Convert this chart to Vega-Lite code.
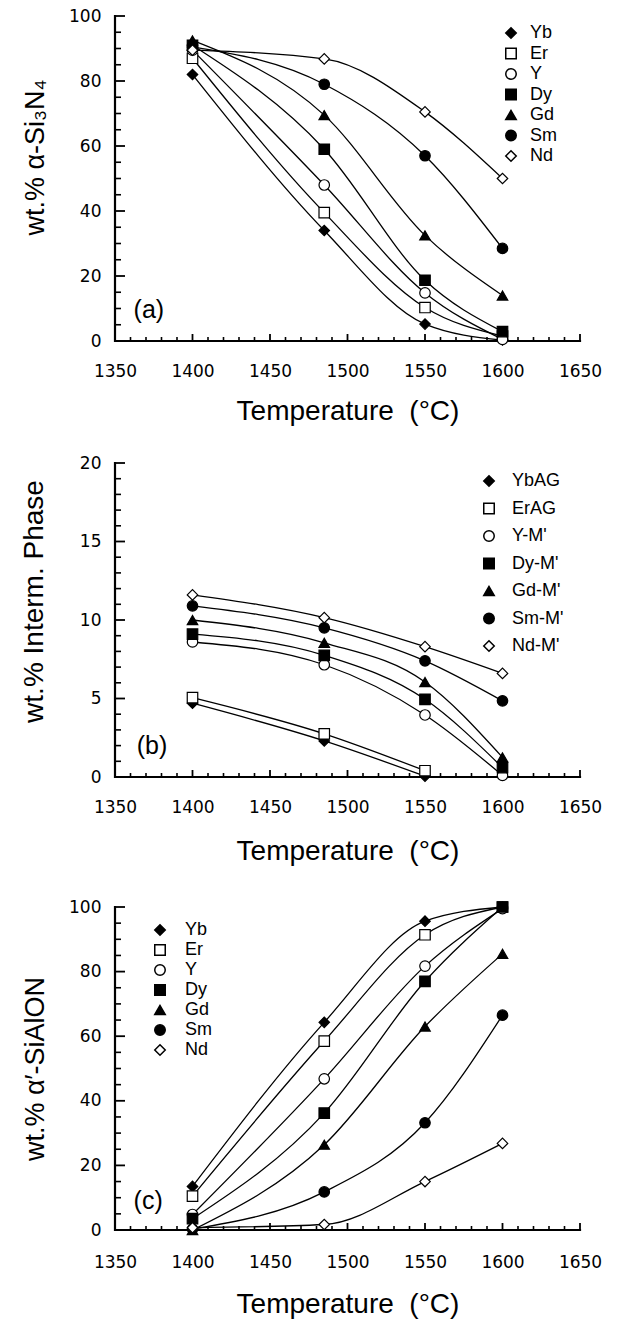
{
  "$schema": "https://vega.github.io/schema/vega-lite/v6.json",
  "padding": {"left": 20, "top": 7, "right": 5, "bottom": 5},
  "background": "white",
  "config": {
    "view": {"stroke": null},
    "font": "Liberation Sans",
    "axis": {"grid": false, "domain": false, "ticks": false, "labelColor": "black", "titleColor": "black", "labelFont": "DejaVu Sans", "labelFontSize": 17, "titleFontSize": 27, "titleFontWeight": "normal", "labelFlush": false, "labelOverlap": false},
    "legend": {"labelFontSize": 18, "labelColor": "black", "padding": 0, "symbolSize": 110},
    "tick": {"color": "black", "opacity": 1}
  },
  "datasets": {
    "frame100": [{"i": 1, "x": 1350, "y": 100}, {"i": 2, "x": 1350, "y": 0}, {"i": 3, "x": 1650, "y": 0}],
    "frame20": [{"i": 1, "x": 1350, "y": 20}, {"i": 2, "x": 1350, "y": 0}, {"i": 3, "x": 1650, "y": 0}],
    "xt": [
      {"val": 1360, "kind": "minor"}, {"val": 1370, "kind": "minor"}, {"val": 1380, "kind": "minor"}, {"val": 1390, "kind": "minor"},
      {"val": 1400, "kind": "major"}, {"val": 1410, "kind": "minor"}, {"val": 1420, "kind": "minor"}, {"val": 1430, "kind": "minor"}, {"val": 1440, "kind": "minor"},
      {"val": 1450, "kind": "major"}, {"val": 1460, "kind": "minor"}, {"val": 1470, "kind": "minor"}, {"val": 1480, "kind": "minor"}, {"val": 1490, "kind": "minor"},
      {"val": 1500, "kind": "major"}, {"val": 1510, "kind": "minor"}, {"val": 1520, "kind": "minor"}, {"val": 1530, "kind": "minor"}, {"val": 1540, "kind": "minor"},
      {"val": 1550, "kind": "major"}, {"val": 1560, "kind": "minor"}, {"val": 1570, "kind": "minor"}, {"val": 1580, "kind": "minor"}, {"val": 1590, "kind": "minor"},
      {"val": 1600, "kind": "major"}, {"val": 1610, "kind": "minor"}, {"val": 1620, "kind": "minor"}, {"val": 1630, "kind": "minor"}, {"val": 1640, "kind": "minor"},
      {"val": 1650, "kind": "major"}
    ],
    "yt100": [
      {"val": 5, "kind": "minor"}, {"val": 10, "kind": "minor"}, {"val": 15, "kind": "minor"}, {"val": 20, "kind": "major"},
      {"val": 25, "kind": "minor"}, {"val": 30, "kind": "minor"}, {"val": 35, "kind": "minor"}, {"val": 40, "kind": "major"},
      {"val": 45, "kind": "minor"}, {"val": 50, "kind": "minor"}, {"val": 55, "kind": "minor"}, {"val": 60, "kind": "major"},
      {"val": 65, "kind": "minor"}, {"val": 70, "kind": "minor"}, {"val": 75, "kind": "minor"}, {"val": 80, "kind": "major"},
      {"val": 85, "kind": "minor"}, {"val": 90, "kind": "minor"}, {"val": 95, "kind": "minor"}, {"val": 100, "kind": "major"}
    ],
    "yt20": [
      {"val": 1, "kind": "minor"}, {"val": 2, "kind": "minor"}, {"val": 3, "kind": "minor"}, {"val": 4, "kind": "minor"}, {"val": 5, "kind": "major"},
      {"val": 6, "kind": "minor"}, {"val": 7, "kind": "minor"}, {"val": 8, "kind": "minor"}, {"val": 9, "kind": "minor"}, {"val": 10, "kind": "major"},
      {"val": 11, "kind": "minor"}, {"val": 12, "kind": "minor"}, {"val": 13, "kind": "minor"}, {"val": 14, "kind": "minor"}, {"val": 15, "kind": "major"},
      {"val": 16, "kind": "minor"}, {"val": 17, "kind": "minor"}, {"val": 18, "kind": "minor"}, {"val": 19, "kind": "minor"}, {"val": 20, "kind": "major"}
    ],
    "a": [
      {"series": "Yb", "T": 1400, "v": 82}, {"series": "Yb", "T": 1485, "v": 34}, {"series": "Yb", "T": 1550, "v": 5.2}, {"series": "Yb", "T": 1600, "v": 0.3},
      {"series": "Er", "T": 1400, "v": 87}, {"series": "Er", "T": 1485, "v": 39.5}, {"series": "Er", "T": 1550, "v": 10.3}, {"series": "Er", "T": 1600, "v": 1.5},
      {"series": "Y", "T": 1400, "v": 89.5}, {"series": "Y", "T": 1485, "v": 48}, {"series": "Y", "T": 1550, "v": 14.8}, {"series": "Y", "T": 1600, "v": 0.5},
      {"series": "Dy", "T": 1400, "v": 91}, {"series": "Dy", "T": 1485, "v": 59}, {"series": "Dy", "T": 1550, "v": 18.7}, {"series": "Dy", "T": 1600, "v": 2.9},
      {"series": "Gd", "T": 1400, "v": 92.5}, {"series": "Gd", "T": 1485, "v": 69.5}, {"series": "Gd", "T": 1550, "v": 32.5}, {"series": "Gd", "T": 1600, "v": 14},
      {"series": "Sm", "T": 1400, "v": 90.5}, {"series": "Sm", "T": 1485, "v": 79}, {"series": "Sm", "T": 1550, "v": 57}, {"series": "Sm", "T": 1600, "v": 28.5},
      {"series": "Nd", "T": 1400, "v": 89.5}, {"series": "Nd", "T": 1485, "v": 86.8}, {"series": "Nd", "T": 1550, "v": 70.5}, {"series": "Nd", "T": 1600, "v": 50}
    ],
    "b": [
      {"series": "YbAG", "T": 1400, "v": 4.7}, {"series": "YbAG", "T": 1485, "v": 2.3}, {"series": "YbAG", "T": 1550, "v": 0.05},
      {"series": "ErAG", "T": 1400, "v": 5.05}, {"series": "ErAG", "T": 1485, "v": 2.75}, {"series": "ErAG", "T": 1550, "v": 0.4},
      {"series": "Y-M'", "T": 1400, "v": 8.6}, {"series": "Y-M'", "T": 1485, "v": 7.15}, {"series": "Y-M'", "T": 1550, "v": 3.95}, {"series": "Y-M'", "T": 1600, "v": 0.1},
      {"series": "Dy-M'", "T": 1400, "v": 9.1}, {"series": "Dy-M'", "T": 1485, "v": 7.75}, {"series": "Dy-M'", "T": 1550, "v": 4.95}, {"series": "Dy-M'", "T": 1600, "v": 0.6},
      {"series": "Gd-M'", "T": 1400, "v": 10.0}, {"series": "Gd-M'", "T": 1485, "v": 8.55}, {"series": "Gd-M'", "T": 1550, "v": 6.05}, {"series": "Gd-M'", "T": 1600, "v": 1.25},
      {"series": "Sm-M'", "T": 1400, "v": 10.9}, {"series": "Sm-M'", "T": 1485, "v": 9.5}, {"series": "Sm-M'", "T": 1550, "v": 7.4}, {"series": "Sm-M'", "T": 1600, "v": 4.85},
      {"series": "Nd-M'", "T": 1400, "v": 11.6}, {"series": "Nd-M'", "T": 1485, "v": 10.15}, {"series": "Nd-M'", "T": 1550, "v": 8.3}, {"series": "Nd-M'", "T": 1600, "v": 6.6}
    ],
    "c": [
      {"series": "Yb", "T": 1400, "v": 13.5}, {"series": "Yb", "T": 1485, "v": 64.3}, {"series": "Yb", "T": 1550, "v": 95.6}, {"series": "Yb", "T": 1600, "v": 100},
      {"series": "Er", "T": 1400, "v": 10.5}, {"series": "Er", "T": 1485, "v": 58.5}, {"series": "Er", "T": 1550, "v": 91.4}, {"series": "Er", "T": 1600, "v": 100},
      {"series": "Y", "T": 1400, "v": 4.8}, {"series": "Y", "T": 1485, "v": 46.8}, {"series": "Y", "T": 1550, "v": 81.7}, {"series": "Y", "T": 1600, "v": 99.5},
      {"series": "Dy", "T": 1400, "v": 3.5}, {"series": "Dy", "T": 1485, "v": 36.2}, {"series": "Dy", "T": 1550, "v": 77}, {"series": "Dy", "T": 1600, "v": 100},
      {"series": "Gd", "T": 1400, "v": 0}, {"series": "Gd", "T": 1485, "v": 26.4}, {"series": "Gd", "T": 1550, "v": 63}, {"series": "Gd", "T": 1600, "v": 85.5},
      {"series": "Sm", "T": 1400, "v": 0.3}, {"series": "Sm", "T": 1485, "v": 11.8}, {"series": "Sm", "T": 1550, "v": 33.2}, {"series": "Sm", "T": 1600, "v": 66.5},
      {"series": "Nd", "T": 1400, "v": 0.7}, {"series": "Nd", "T": 1485, "v": 1.7}, {"series": "Nd", "T": 1550, "v": 15}, {"series": "Nd", "T": 1600, "v": 26.8}
    ]
  },
  "spacing": 29,
  "resolve": {"scale": {"shape": "independent", "fill": "independent"}},
  "vconcat": [
    {
      "width": 465, "height": 325,
      "resolve": {"axis": {"x": "independent", "y": "independent"}},
      "layer": [
        {
          "data": {"name": "a"},
          "mark": {"type": "line", "interpolate": "monotone", "color": "black", "strokeWidth": 1.3},
          "encoding": {
            "x": {"field": "T", "type": "quantitative", "scale": {"domain": [1350, 1650], "nice": false, "zero": false},
              "axis": {"orient": "bottom", "values": [1350, 1400, 1450, 1500, 1550, 1600, 1650], "format": "d", "labelPadding": 22, "title": "Temperature\u00a0 (°C)", "titleFontSize": 28, "titlePadding": 18}},
            "y": {"field": "v", "type": "quantitative", "scale": {"domain": [0, 100], "nice": false},
              "axis": {"orient": "left", "values": [0, 20, 40, 60, 80, 100], "format": "d", "labelPadding": 14, "title": "wt.% α-Si₃N₄", "titlePadding": 19, "titleY": 141}},
            "detail": {"field": "series"}
          }
        },
        {
          "data": {"name": "frame100"},
          "mark": {"type": "line", "color": "black", "strokeWidth": 2.2, "strokeCap": "square"},
          "encoding": {"x": {"field": "x", "type": "quantitative", "axis": null}, "y": {"field": "y", "type": "quantitative", "axis": null}, "order": {"field": "i"}}
        },
        {
          "data": {"name": "xt"},
          "transform": [{"filter": "datum.kind == 'major'"}],
          "mark": {"type": "tick", "orient": "vertical", "size": 7, "thickness": 1.8, "yOffset": -3.5},
          "encoding": {"x": {"field": "val", "type": "quantitative", "axis": null}, "y": {"datum": 0, "type": "quantitative", "axis": null}}
        },
        {
          "data": {"name": "xt"},
          "transform": [{"filter": "datum.kind == 'minor'"}],
          "mark": {"type": "tick", "orient": "vertical", "size": 4, "thickness": 1.6, "yOffset": -2},
          "encoding": {"x": {"field": "val", "type": "quantitative", "axis": null}, "y": {"datum": 0, "type": "quantitative", "axis": null}}
        },
        {
          "data": {"name": "yt100"},
          "transform": [{"filter": "datum.kind == 'major'"}],
          "mark": {"type": "tick", "orient": "horizontal", "size": 10, "thickness": 1.8, "xOffset": 5},
          "encoding": {"y": {"field": "val", "type": "quantitative", "axis": null}, "x": {"datum": 1350, "type": "quantitative", "axis": null}}
        },
        {
          "data": {"name": "yt100"},
          "transform": [{"filter": "datum.kind == 'minor'"}],
          "mark": {"type": "tick", "orient": "horizontal", "size": 6, "thickness": 1.6, "xOffset": 3},
          "encoding": {"y": {"field": "val", "type": "quantitative", "axis": null}, "x": {"datum": 1350, "type": "quantitative", "axis": null}}
        },
        {
          "data": {"name": "a"},
          "mark": {"type": "point", "filled": false, "color": "black", "strokeWidth": 1.2, "size": 110, "opacity": 1},
          "encoding": {
            "x": {"field": "T", "type": "quantitative", "axis": null},
            "y": {"field": "v", "type": "quantitative", "axis": null},
            "shape": {"field": "series", "type": "nominal", "scale": {"domain": ["Yb","Er","Y","Dy","Gd","Sm","Nd"], "range": ["diamond","square","circle","square","triangle-up","circle","diamond"]},
              "legend": {"orient": "none", "legendX": 387, "legendY": 8, "title": null, "rowPadding": 2.5, "labelOffset": 10}},
            "fill": {"field": "series", "type": "nominal", "scale": {"domain": ["Yb","Er","Y","Dy","Gd","Sm","Nd"], "range": ["black","white","white","black","black","black","white"]},
              "legend": {"orient": "none", "legendX": 387, "legendY": 8, "title": null, "rowPadding": 2.5, "labelOffset": 10}}
          }
        },
        {
          "data": {"values": [{}]},
          "mark": {"type": "text", "fontSize": 25, "align": "left", "baseline": "middle"},
          "encoding": {"x": {"datum": 1362, "type": "quantitative", "axis": null}, "y": {"datum": 9.5, "type": "quantitative", "axis": null}, "text": {"value": "(a)"}}
        }
      ]
    },
    {
      "width": 465, "height": 314,
      "resolve": {"axis": {"x": "independent", "y": "independent"}},
      "layer": [
        {
          "data": {"name": "b"},
          "mark": {"type": "line", "interpolate": "monotone", "color": "black", "strokeWidth": 1.3},
          "encoding": {
            "x": {"field": "T", "type": "quantitative", "scale": {"domain": [1350, 1650], "nice": false, "zero": false},
              "axis": {"orient": "bottom", "values": [1350, 1400, 1450, 1500, 1550, 1600, 1650], "format": "d", "labelPadding": 22, "title": "Temperature\u00a0 (°C)", "titleFontSize": 28, "titlePadding": 22}},
            "y": {"field": "v", "type": "quantitative", "scale": {"domain": [0, 20], "nice": false},
              "axis": {"orient": "left", "values": [0, 5, 10, 15, 20], "format": "d", "labelPadding": 14, "title": "wt.% Interm. Phase", "titleFontSize": 28, "titlePadding": 31, "titleY": 138}},
            "detail": {"field": "series"}
          }
        },
        {
          "data": {"name": "frame20"},
          "mark": {"type": "line", "color": "black", "strokeWidth": 2.2, "strokeCap": "square"},
          "encoding": {"x": {"field": "x", "type": "quantitative", "axis": null}, "y": {"field": "y", "type": "quantitative", "axis": null}, "order": {"field": "i"}}
        },
        {
          "data": {"name": "xt"},
          "transform": [{"filter": "datum.kind == 'major'"}],
          "mark": {"type": "tick", "orient": "vertical", "size": 7, "thickness": 1.8, "yOffset": -3.5},
          "encoding": {"x": {"field": "val", "type": "quantitative", "axis": null}, "y": {"datum": 0, "type": "quantitative", "axis": null}}
        },
        {
          "data": {"name": "xt"},
          "transform": [{"filter": "datum.kind == 'minor'"}],
          "mark": {"type": "tick", "orient": "vertical", "size": 4, "thickness": 1.6, "yOffset": -2},
          "encoding": {"x": {"field": "val", "type": "quantitative", "axis": null}, "y": {"datum": 0, "type": "quantitative", "axis": null}}
        },
        {
          "data": {"name": "yt20"},
          "transform": [{"filter": "datum.kind == 'major'"}],
          "mark": {"type": "tick", "orient": "horizontal", "size": 10, "thickness": 1.8, "xOffset": 5},
          "encoding": {"y": {"field": "val", "type": "quantitative", "axis": null}, "x": {"datum": 1350, "type": "quantitative", "axis": null}}
        },
        {
          "data": {"name": "yt20"},
          "transform": [{"filter": "datum.kind == 'minor'"}],
          "mark": {"type": "tick", "orient": "horizontal", "size": 6, "thickness": 1.6, "xOffset": 3},
          "encoding": {"y": {"field": "val", "type": "quantitative", "axis": null}, "x": {"datum": 1350, "type": "quantitative", "axis": null}}
        },
        {
          "data": {"name": "b"},
          "mark": {"type": "point", "filled": false, "color": "black", "strokeWidth": 1.2, "size": 110, "opacity": 1},
          "encoding": {
            "x": {"field": "T", "type": "quantitative", "axis": null},
            "y": {"field": "v", "type": "quantitative", "axis": null},
            "shape": {"field": "series", "type": "nominal", "scale": {"domain": ["YbAG","ErAG","Y-M'","Dy-M'","Gd-M'","Sm-M'","Nd-M'"], "range": ["diamond","square","circle","square","triangle-up","circle","diamond"]},
              "legend": {"orient": "none", "legendX": 365, "legendY": 9, "title": null, "rowPadding": 9.5, "labelOffset": 14}},
            "fill": {"field": "series", "type": "nominal", "scale": {"domain": ["YbAG","ErAG","Y-M'","Dy-M'","Gd-M'","Sm-M'","Nd-M'"], "range": ["black","white","white","black","black","black","white"]},
              "legend": {"orient": "none", "legendX": 365, "legendY": 9, "title": null, "rowPadding": 9.5, "labelOffset": 14}}
          }
        },
        {
          "data": {"values": [{}]},
          "mark": {"type": "text", "fontSize": 25, "align": "left", "baseline": "middle"},
          "encoding": {"x": {"datum": 1364, "type": "quantitative", "axis": null}, "y": {"datum": 2, "type": "quantitative", "axis": null}, "text": {"value": "(b)"}}
        }
      ]
    },
    {
      "width": 465, "height": 323,
      "title": {"text": " ", "fontSize": 1, "offset": 3},
      "resolve": {"axis": {"x": "independent", "y": "independent"}},
      "layer": [
        {
          "data": {"name": "c"},
          "mark": {"type": "line", "interpolate": "monotone", "color": "black", "strokeWidth": 1.3},
          "encoding": {
            "x": {"field": "T", "type": "quantitative", "scale": {"domain": [1350, 1650], "nice": false, "zero": false},
              "axis": {"orient": "bottom", "values": [1350, 1400, 1450, 1500, 1550, 1600, 1650], "format": "d", "labelPadding": 24, "title": "Temperature\u00a0 (°C)", "titleFontSize": 28, "titlePadding": 20}},
            "y": {"field": "v", "type": "quantitative", "scale": {"domain": [0, 100], "nice": false},
              "axis": {"orient": "left", "values": [0, 20, 40, 60, 80, 100], "format": "d", "labelPadding": 14, "title": "wt.% α′-SiAlON", "titlePadding": 19}},
            "detail": {"field": "series"}
          }
        },
        {
          "data": {"name": "frame100"},
          "mark": {"type": "line", "color": "black", "strokeWidth": 2.2, "strokeCap": "square"},
          "encoding": {"x": {"field": "x", "type": "quantitative", "axis": null}, "y": {"field": "y", "type": "quantitative", "axis": null}, "order": {"field": "i"}}
        },
        {
          "data": {"name": "xt"},
          "transform": [{"filter": "datum.kind == 'major'"}],
          "mark": {"type": "tick", "orient": "vertical", "size": 7, "thickness": 1.8, "yOffset": -3.5},
          "encoding": {"x": {"field": "val", "type": "quantitative", "axis": null}, "y": {"datum": 0, "type": "quantitative", "axis": null}}
        },
        {
          "data": {"name": "xt"},
          "transform": [{"filter": "datum.kind == 'minor'"}],
          "mark": {"type": "tick", "orient": "vertical", "size": 4, "thickness": 1.6, "yOffset": -2},
          "encoding": {"x": {"field": "val", "type": "quantitative", "axis": null}, "y": {"datum": 0, "type": "quantitative", "axis": null}}
        },
        {
          "data": {"name": "yt100"},
          "transform": [{"filter": "datum.kind == 'major'"}],
          "mark": {"type": "tick", "orient": "horizontal", "size": 10, "thickness": 1.8, "xOffset": 5},
          "encoding": {"y": {"field": "val", "type": "quantitative", "axis": null}, "x": {"datum": 1350, "type": "quantitative", "axis": null}}
        },
        {
          "data": {"name": "yt100"},
          "transform": [{"filter": "datum.kind == 'minor'"}],
          "mark": {"type": "tick", "orient": "horizontal", "size": 6, "thickness": 1.6, "xOffset": 3},
          "encoding": {"y": {"field": "val", "type": "quantitative", "axis": null}, "x": {"datum": 1350, "type": "quantitative", "axis": null}}
        },
        {
          "data": {"name": "c"},
          "mark": {"type": "point", "filled": false, "color": "black", "strokeWidth": 1.2, "size": 110, "opacity": 1},
          "encoding": {
            "x": {"field": "T", "type": "quantitative", "axis": null},
            "y": {"field": "v", "type": "quantitative", "axis": null},
            "shape": {"field": "series", "type": "nominal", "scale": {"domain": ["Yb","Er","Y","Dy","Gd","Sm","Nd"], "range": ["diamond","square","circle","square","triangle-up","circle","diamond"]},
              "legend": {"orient": "none", "legendX": 36, "legendY": 14, "title": null, "rowPadding": 2, "labelOffset": 16}},
            "fill": {"field": "series", "type": "nominal", "scale": {"domain": ["Yb","Er","Y","Dy","Gd","Sm","Nd"], "range": ["black","white","white","black","black","black","white"]},
              "legend": {"orient": "none", "legendX": 36, "legendY": 14, "title": null, "rowPadding": 2, "labelOffset": 16}}
          }
        },
        {
          "data": {"values": [{}]},
          "mark": {"type": "text", "fontSize": 25, "align": "left", "baseline": "middle"},
          "encoding": {"x": {"datum": 1362, "type": "quantitative", "axis": null}, "y": {"datum": 9, "type": "quantitative", "axis": null}, "text": {"value": "(c)"}}
        }
      ]
    }
  ]
}
